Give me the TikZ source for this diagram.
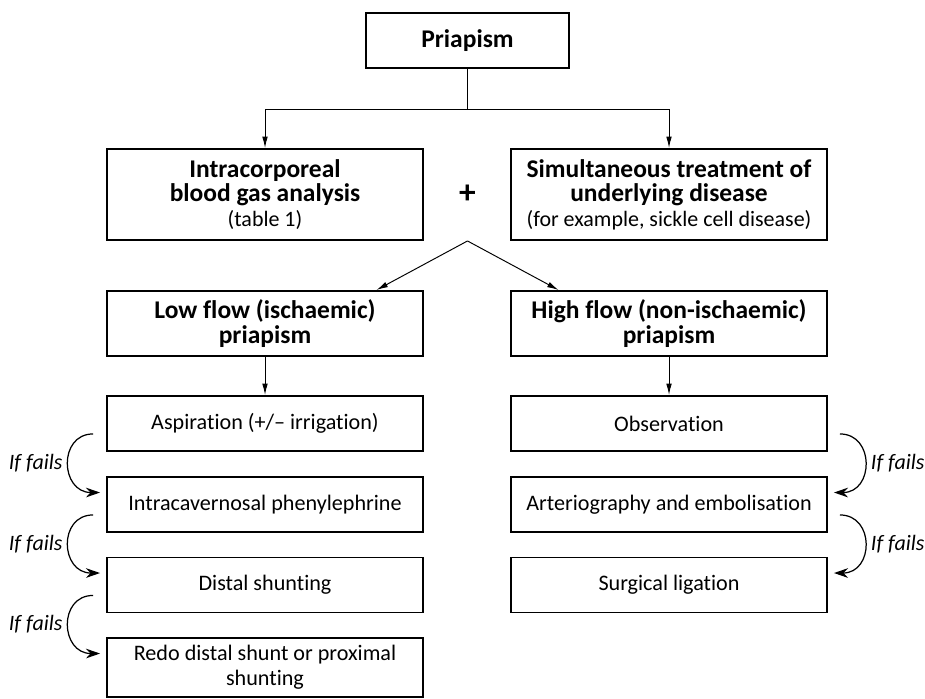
\documentclass[tikz,border=0pt]{standalone}
\usepackage{fontspec}
\setmainfont[Ligatures=NoCommon]{Carlito}
\usetikzlibrary{arrows,arrows.meta,positioning,calc}
\tikzset{tbox/.style={draw, line width=1.1pt, minimum width=6.32cm, minimum height=1.1cm, align=center, inner sep=2pt, font=\fontsize{12.6}{14}\selectfont}}
\tikzset{hbox/.style={tbox, font=\fontsize{14.5}{14}\selectfont\bfseries}}
\tikzset{arr/.style={draw, line width=0.55pt, -{Latex[length=6.5pt,width=3.2pt]}}}
\tikzset{farr/.style={draw, line width=0.7pt, -{Stealth[length=8pt,width=5.5pt]}}}
\tikzset{fails/.style={font=\fontsize{12.5}{13.7}\selectfont\itshape, inner sep=3pt}}
\newcommand{\plainline}[1]{{\fontsize{12.5}{14}\selectfont\mdseries #1}}

\begin{document}
\begin{tikzpicture}
    \useasboundingbox (0,0) rectangle (18.5,-13.98);
    % top of the tree
    \node[hbox, minimum width=4.06cm] (P) at (9.35,-0.81) {Priapism};
    \node[hbox, minimum height=1.82cm] (BG) at (5.30,-3.89) {Intracorporeal\\blood gas analysis\\\plainline{(table 1)}};
    \node[hbox, minimum height=1.82cm] (UD) at (13.38,-3.89) {Simultaneous treatment of\\underlying disease\\\plainline{(for example, sickle cell disease)}};
    \node[font=\fontsize{19}{19}\selectfont\bfseries] (plus) at (9.35,-3.88) {+};
    \coordinate (fork) at (9.35,-2.18);
    \coordinate (split) at (plus |- BG.south);

    \node[hbox, minimum height=1.3cm] (LF) at (5.30,-6.47) {Low flow (ischaemic)\\priapism};
    \node[hbox, minimum height=1.3cm] (HF) at (13.38,-6.47) {High flow (non-ischaemic)\\priapism};

    % low flow column
    \node[tbox] (asp) at (5.30,-8.47) {Aspiration (+/-- irrigation)};
    \node[tbox] (phen) at (5.30,-10.09) {Intracavernosal phenylephrine};
    \node[tbox] (dist) at (5.30,-11.70) {Distal shunting};
    \node[tbox, minimum height=1.18cm] (redo) at (5.30,-13.35) {Redo distal shunt or proximal\\shunting};

    % high flow column
    \node[tbox] (obs) at (13.38,-8.47) {Observation};
    \node[tbox] (emb) at (13.38,-10.09) {Arteriography and embolisation};
    \node[tbox] (lig) at (13.38,-11.70) {Surgical ligation};

    \draw[line width=0.55pt] (P.south) -- (fork);
    \draw[arr] (fork) -| (BG.north);
    \draw[arr] (fork) -| (UD.north);
    \draw[arr] (split) -- ([xshift=-0.95cm]LF.north east);
    \draw[arr] (split) -- ([xshift=0.97cm]HF.north west);
    \draw[arr] (LF.south) -- (asp.north);
    \draw[arr] (HF.south) -- (obs.north);

    % if fails, left
    \draw[farr] ([xshift=-0.26cm,yshift=0.36cm]asp.south west) .. controls +(-0.7,0) and +(-0.8,0) .. ([xshift=-0.12cm,yshift=-0.33cm]phen.north west) node[fails, pos=0.5, left] (f1) {If fails};
    \draw[farr] ([xshift=-0.26cm,yshift=0.36cm]phen.south west) .. controls +(-0.7,0) and +(-0.8,0) .. ([xshift=-0.12cm,yshift=-0.33cm]dist.north west) node[fails, pos=0.5, left] (f2) {If fails};
    \draw[farr] ([xshift=-0.26cm,yshift=0.36cm]dist.south west) .. controls +(-0.7,0) and +(-0.8,0) .. ([xshift=-0.12cm,yshift=-0.33cm]redo.north west) node[fails, pos=0.5, left] (f3) {If fails};

    % if fails, right
    \draw[farr] ([xshift=0.24cm,yshift=0.36cm]obs.south east) .. controls +(0.7,0) and +(0.8,0) .. ([xshift=0.12cm,yshift=-0.33cm]emb.north east) node[fails, pos=0.5, right] (f4) {If fails};
    \draw[farr] ([xshift=0.24cm,yshift=0.36cm]emb.south east) .. controls +(0.7,0) and +(0.8,0) .. ([xshift=0.12cm,yshift=-0.33cm]lig.north east) node[fails, pos=0.5, right] (f5) {If fails};
\end{tikzpicture}
\end{document}
